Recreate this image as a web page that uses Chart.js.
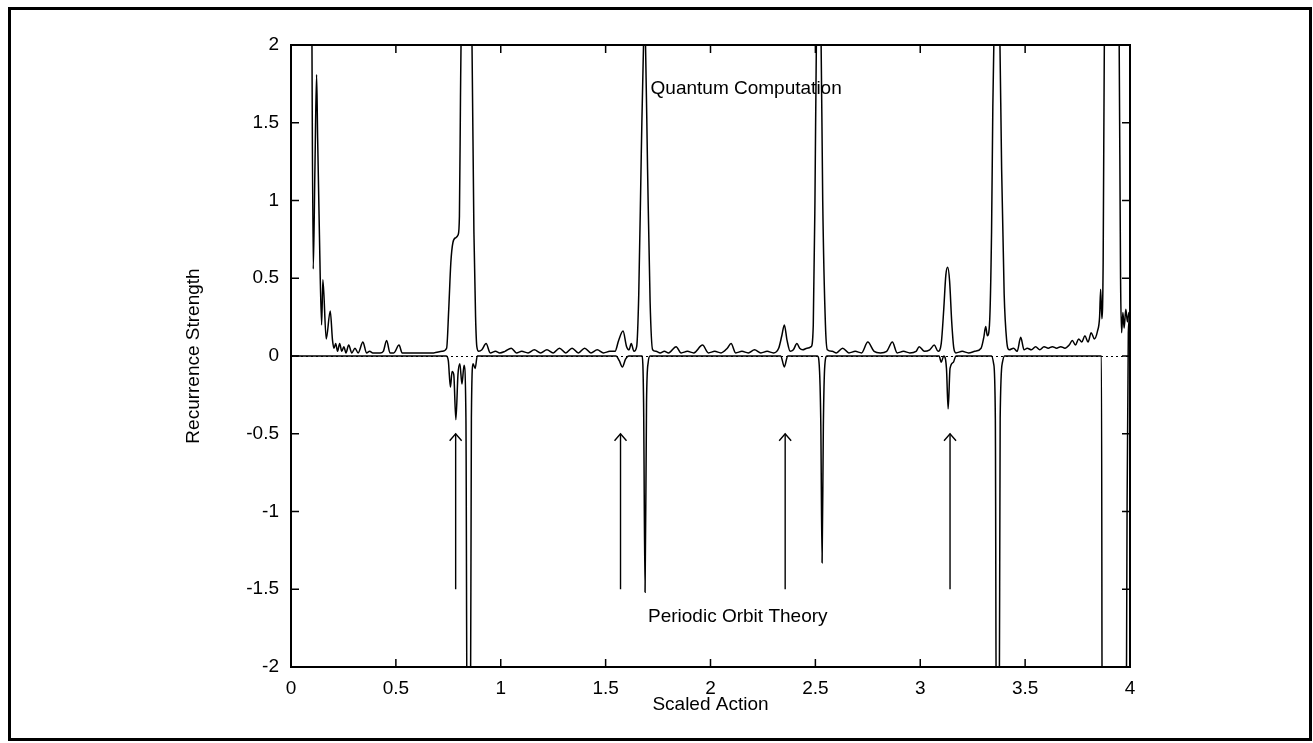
<!DOCTYPE html>
<html>
<head>
<meta charset="utf-8">
<script src="https://cdn.jsdelivr.net/npm/chart.js@4.4.1/dist/chart.umd.min.js"></script>
<style>
  html, body { margin: 0; padding: 0; background: #fff; }
  canvas { display: block; }
</style>
</head>
<body>
<canvas id="chart-recurrence" width="1313" height="743"></canvas>
<script>
// tick values on both axes
const xTicks = [0, 0.5, 1, 1.5, 2, 2.5, 3, 3.5, 4];
const yTicks = [-2, -1.5, -1, -0.5, 0, 0.5, 1, 1.5, 2];

// Quantum Computation (upper curve)
const qcX = [0.098, 0.106, 0.114, 0.122, 0.127, 0.135, 0.146, 0.152, 0.168, 0.187, 0.198,
  0.205, 0.213, 0.222, 0.232, 0.242, 0.252, 0.262, 0.275, 0.29, 0.305, 0.32, 0.343, 0.36,
  0.375, 0.39, 0.405, 0.425, 0.44, 0.456, 0.472, 0.49, 0.515, 0.53, 0.56, 0.60, 0.64, 0.68,
  0.72, 0.742, 0.752, 0.762, 0.772, 0.785, 0.797, 0.803, 0.808, 0.813, 0.835, 0.858, 0.863,
  0.872, 0.880, 0.886, 0.895, 0.91, 0.93, 0.95, 0.975, 0.995, 1.02, 1.05, 1.075, 1.10, 1.13,
  1.16, 1.19, 1.22, 1.25, 1.28, 1.31, 1.34, 1.37, 1.40, 1.43, 1.46, 1.49, 1.52, 1.545, 1.562,
  1.583, 1.600, 1.612, 1.622, 1.635, 1.648, 1.658, 1.670, 1.681, 1.686, 1.690, 1.700, 1.712,
  1.724, 1.74, 1.76, 1.78, 1.80, 1.836, 1.86, 1.89, 1.92, 1.962, 1.99, 2.02, 2.05, 2.08, 2.098,
  2.12, 2.15, 2.18, 2.21, 2.24, 2.27, 2.30, 2.325, 2.340, 2.352, 2.365, 2.380, 2.395, 2.412,
  2.425, 2.440, 2.460, 2.480, 2.490, 2.498, 2.505, 2.515, 2.527, 2.535, 2.548, 2.557, 2.58,
  2.60, 2.63, 2.66, 2.69, 2.72, 2.75, 2.78, 2.81, 2.84, 2.867, 2.89, 2.92, 2.95, 2.98, 2.995,
  3.02, 3.045, 3.067, 3.085, 3.100, 3.112, 3.122, 3.131, 3.140, 3.150, 3.160, 3.170, 3.20,
  3.23, 3.26, 3.29, 3.303, 3.312, 3.320, 3.330, 3.340, 3.346, 3.352, 3.365, 3.379, 3.388,
  3.400, 3.412, 3.424, 3.445, 3.462, 3.479, 3.495, 3.51, 3.53, 3.55, 3.57, 3.59, 3.61, 3.63,
  3.65, 3.67, 3.69, 3.71, 3.725, 3.74, 3.755, 3.77, 3.785, 3.80, 3.815, 3.83, 3.845, 3.855,
  3.860, 3.866, 3.872, 3.878, 3.915, 3.948, 3.955, 3.960, 3.966, 3.972, 3.980, 3.988, 3.995, 4.0];
const qcY = [2.60, 0.56, 1.20, 1.81, 1.40, 0.82, 0.20, 0.49, 0.11, 0.29, 0.10,
  0.05, 0.08, 0.03, 0.08, 0.03, 0.06, 0.02, 0.07, 0.02, 0.05, 0.02, 0.09, 0.02,
  0.03, 0.02, 0.02, 0.02, 0.03, 0.10, 0.02, 0.02, 0.07, 0.02, 0.02, 0.02, 0.02, 0.02,
  0.03, 0.05, 0.30, 0.60, 0.73, 0.76, 0.78, 0.90, 1.66, 2.30, 3.50, 2.30, 2.00,
  0.80, 0.25, 0.06, 0.03, 0.04, 0.08, 0.02, 0.03, 0.02, 0.03, 0.05, 0.02, 0.03, 0.02,
  0.04, 0.02, 0.04, 0.02, 0.05, 0.02, 0.05, 0.02, 0.05, 0.02, 0.04, 0.02, 0.03, 0.03, 0.10,
  0.16, 0.06, 0.04, 0.08, 0.03, 0.06, 0.40, 1.30, 2.02, 2.10, 2.02, 1.20, 0.35,
  0.04, 0.03, 0.02, 0.03, 0.02, 0.06, 0.02, 0.03, 0.02, 0.07, 0.02, 0.03, 0.02, 0.05, 0.08,
  0.02, 0.03, 0.02, 0.04, 0.02, 0.03, 0.02, 0.05, 0.13, 0.20, 0.10, 0.03, 0.04, 0.08,
  0.05, 0.04, 0.05, 0.06, 0.20, 1.00, 2.05, 2.40, 2.05, 1.00, 0.20, 0.04, 0.03,
  0.02, 0.05, 0.02, 0.03, 0.02, 0.09, 0.03, 0.02, 0.03, 0.09, 0.02, 0.03, 0.02, 0.03, 0.06,
  0.03, 0.04, 0.07, 0.03, 0.08, 0.30, 0.52, 0.57, 0.48, 0.22, 0.05, 0.02, 0.03,
  0.02, 0.03, 0.05, 0.12, 0.19, 0.13, 0.20, 0.80, 1.60, 2.10, 2.80, 2.10, 1.20,
  0.40, 0.10, 0.04, 0.05, 0.03, 0.12, 0.04, 0.05, 0.04, 0.06, 0.04, 0.06, 0.05, 0.06,
  0.05, 0.06, 0.05, 0.07, 0.10, 0.07, 0.11, 0.09, 0.13, 0.09, 0.15, 0.11, 0.16, 0.25,
  0.43, 0.24, 0.60, 2.10, 4.00, 2.10, 0.50, 0.15, 0.28, 0.18, 0.30, 0.22, 0.28, 0.25];

// Periodic Orbit Theory (lower curve)
const poX = [0.0, 0.740, 0.750, 0.760, 0.768, 0.776, 0.786, 0.796, 0.805, 0.815, 0.825,
  0.834, 0.840, 0.855, 0.860, 0.868, 0.878, 0.888, 1.550, 1.565, 1.580, 1.595, 1.610,
  1.674, 1.681, 1.688, 1.695, 1.703, 1.712, 2.335, 2.352, 2.368, 2.510, 2.520, 2.526,
  2.532, 2.538, 2.545, 2.555, 3.090, 3.100, 3.112, 3.125, 3.133, 3.142, 3.158, 3.170,
  3.340, 3.350, 3.358, 3.363, 3.376, 3.381, 3.392, 3.402, 3.864, 3.868, 3.980, 3.986,
  3.992, 4.0];
const poY = [0, 0, -0.03, -0.20, -0.10, -0.12, -0.41, -0.12, -0.05, -0.18, -0.06,
  -0.40, -2.60, -2.60, -0.40, -0.05, -0.08, 0, 0, -0.03, -0.07, -0.02, 0,
  0, -0.30, -1.52, -0.30, -0.04, 0, 0, -0.07, 0, 0, -0.10, -0.45,
  -1.33, -0.45, -0.06, 0, 0, -0.04, 0, -0.08, -0.34, -0.08, -0.04, 0,
  0, -0.05, -0.40, -2.60, -2.60, -0.40, -0.04, 0, 0, -3.00, -3.00, -1.00,
  0.15, 0.25];

// periodic orbit markers (arrows)
const arrowX = [0.785, 1.571, 2.356, 3.142];
const arrowFrom = -1.5;
const arrowTo = -0.5;

const FONT = '"Liberation Sans", Arial, Helvetica, sans-serif';
const labelNotes = [
  { text: 'Quantum Computation', x: 2.17, y: 1.72 },
  { text: 'Periodic Orbit Theory', x: 2.13, y: -1.68 }
];

function pairs(xs, ys) {
  return xs.map((x, i) => ({ x: x, y: ys[i] }));
}

const arrowSets = arrowX.map(x => ({
  data: [{ x: x, y: arrowFrom }, { x: x, y: arrowTo }],
  borderColor: '#000',
  borderWidth: 1.4,
  pointRadius: 0,
  tension: 0
}));

// frame, box, inward ticks, arrowheads and notes
const decorations = {
  id: 'decorations',
  afterDatasetsDraw(chart) {
    const c = chart.ctx;
    const a = chart.chartArea;
    const xs = chart.scales.x, ys = chart.scales.y;
    c.save();
    c.strokeStyle = '#000';
    c.lineWidth = 2;
    c.strokeRect(a.left, a.top, a.right - a.left, a.bottom - a.top);
    c.lineWidth = 1.5;
    c.beginPath();
    xTicks.forEach(v => {
      const px = xs.getPixelForValue(v);
      c.moveTo(px, a.bottom); c.lineTo(px, a.bottom - 8);
      c.moveTo(px, a.top); c.lineTo(px, a.top + 8);
    });
    yTicks.forEach(v => {
      const py = ys.getPixelForValue(v);
      c.moveTo(a.left, py); c.lineTo(a.left + 8, py);
      c.moveTo(a.right, py); c.lineTo(a.right - 8, py);
    });
    c.stroke();
    // arrow heads
    c.lineWidth = 1.4;
    c.beginPath();
    arrowX.forEach(v => {
      const px = xs.getPixelForValue(v);
      const py = ys.getPixelForValue(arrowTo);
      c.moveTo(px - 6, py + 7); c.lineTo(px, py); c.lineTo(px + 6, py + 7);
    });
    c.stroke();
    // notes
    c.fillStyle = '#000';
    c.font = '19px ' + FONT;
    c.textAlign = 'center';
    c.textBaseline = 'middle';
    labelNotes.forEach(n => {
      c.fillText(n.text, xs.getPixelForValue(n.x), ys.getPixelForValue(n.y));
    });
    // outer frame
    c.lineWidth = 3;
    c.strokeRect(9.5, 8.5, 1301, 731);
    c.restore();
  }
};

window.onload = function () {
  const tickFont = { family: FONT, size: 19 };
  new Chart(document.getElementById('chart-recurrence'), {
    type: 'line',
    data: {
      datasets: [
        {
          label: 'Periodic Orbit Theory',
          data: pairs(poX, poY),
          borderColor: '#000',
          borderWidth: 1.5,
          pointRadius: 0,
          cubicInterpolationMode: 'monotone'
        },
        {
          label: 'Quantum Computation',
          data: pairs(qcX, qcY),
          borderColor: '#000',
          borderWidth: 1.5,
          pointRadius: 0,
          cubicInterpolationMode: 'monotone'
        }
      ].concat(arrowSets)
    },
    options: {
      responsive: false,
      animation: false,
      layout: { padding: { left: 0, top: 45, right: 183, bottom: 0 } },
      plugins: { legend: { display: false }, tooltip: { enabled: false } },
      scales: {
        x: {
          type: 'linear',
          min: 0, max: 4,
          afterBuildTicks: s => { s.ticks = xTicks.map(v => ({ value: v })); },
          afterFit: s => { s.height = 76; },
          ticks: { color: '#000', font: tickFont, padding: 10, maxRotation: 0,
            callback: v => String(v) },
          grid: { display: false, drawTicks: false },
          border: { display: false },
          title: { display: true, text: 'Scaled Action', color: '#000', font: tickFont,
            padding: { top: 0, bottom: 27 } }
        },
        y: {
          type: 'linear',
          min: -2, max: 2,
          afterBuildTicks: s => { s.ticks = yTicks.map(v => ({ value: v })); },
          afterFit: s => { s.width = 291; },
          ticks: { color: '#000', font: tickFont, padding: 12,
            callback: v => String(v) },
          grid: {
            drawTicks: false,
            lineWidth: 1,
            color: ctx => (ctx.tick && ctx.tick.value === 0) ? '#000' : 'rgba(0,0,0,0)'
          },
          border: { display: false, dash: [2, 3] },
          title: { display: true, text: 'Recurrence Strength', color: '#000', font: tickFont,
            padding: { top: 182, bottom: 0 } }
        }
      }
    },
    plugins: [decorations]
  });
};
</script>
</body>
</html>
